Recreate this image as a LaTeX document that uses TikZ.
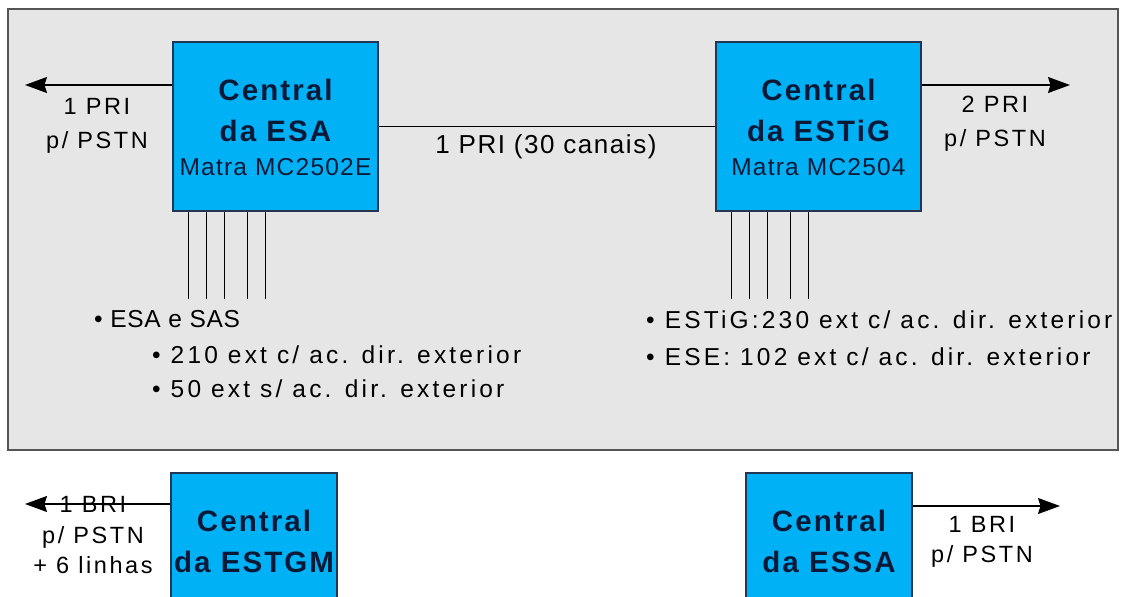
\documentclass[tikz,border=0pt]{standalone}
\usepackage{fontspec}
\setmainfont{Liberation Sans}
\usetikzlibrary{arrows.meta,positioning}

\definecolor{centralfill}{RGB}{0,178,245}
\definecolor{centraldraw}{RGB}{35,55,85}
\definecolor{centraltext}{RGB}{10,25,55}
\definecolor{zonefill}{RGB}{230,230,230}
\definecolor{zonedraw}{RGB}{85,85,85}

\newcommand{\track}[1]{\addfontfeature{LetterSpace=#1}}

\tikzset{
    central/.style={draw=centraldraw, line width=1.4pt, fill=centralfill, inner sep=0pt, minimum width=205pt, minimum height=169pt},
    smallcentral/.style={central, minimum width=166pt},
    centraltitle/.style={inner sep=0pt, align=center, text=centraltext, font=\fontsize{29.5}{41}\selectfont\bfseries\track{7}},
    centralmodel/.style={inner sep=0pt, text=centraltext, font=\fontsize{24.5}{28}\selectfont\track{5}},
    linklabel/.style={inner sep=0pt, align=center, font=\fontsize{23.5}{34}\selectfont\track{11}},
    extlabel/.style={inner sep=0pt, anchor=base west, font=\fontsize{24.5}{30}\selectfont\track{13}},
    link/.style={line width=1.3pt},
    pstn/.style={link, -{Stealth[length=22pt, width=16pt, inset=2.5pt]}},
}

\begin{document}
\begin{tikzpicture}[x=1pt, y=-1pt]
    \useasboundingbox (0,0) rectangle (1122,597);
    \clip (0,0) rectangle (1122,597);
    \draw[zonedraw, line width=1.6pt, fill=zonefill] (8,9) rectangle (1118,450);

    \node[central] (esa) at (275.5,126.5) {};
    \node[central] (estig) at (818.5,126.5) {};
    \node[smallcentral] (estgm) at (254,557.5) {};
    \node[smallcentral] (essa) at (829,557.5) {};

    \node[centraltitle, below=38pt of esa.north] (esa-t) {Central\\da ESA};
    \node[centralmodel, below=16pt of esa-t] (esa-m) {Matra MC2502E};
    \node[centraltitle, below=38pt of estig.north] (estig-t) {Central\\da ESTiG};
    \node[centralmodel, below=16pt of estig-t] (estig-m) {Matra MC2504};
    \node[centraltitle, below=38pt of estgm.north] (estgm-t) {Central\\da ESTGM};
    \node[centraltitle, below=38pt of essa.north] (essa-t) {Central\\da ESSA};

    \coordinate (psa) at (25,85);
    \coordinate (pst) at (1070,85);
    \coordinate (psgm) at (25,504);
    \coordinate (pssa) at (1060,506);

    \draw[pstn] (esa.west |- psa) -- (psa);
    \draw[pstn] (estig.east |- pst) -- (pst);
    \draw[link] (esa.east) -- (estig.west);
    \draw[pstn] (estgm.west |- psgm) -- (psgm);
    \draw[pstn] (essa.east |- pssa) -- (pssa);

    \foreach \dx in {16,34,52,75,93} {
        \draw[link] ([xshift=\dx pt]esa.south west) -- ++(0,87);
        \draw[link] ([xshift=\dx pt]estig.south west) -- ++(0,87);
    }

    \node[linklabel, anchor=north] (psa-l) at (97,98) {1 PRI\\p/ PSTN};
    \node[linklabel, anchor=north] (pst-l) at (995,96) {2 PRI\\p/ PSTN};
    \node[anchor=base, inner sep=0pt, font=\fontsize{26}{30}\selectfont\track{6}] (tie-l) at (546,153) {1 PRI (30 canais)};
    \node[linklabel, anchor=north] (psgm-l) at (93,496) {1 BRI\\[-3pt]p/ PSTN\\[-4pt]+ 6 linhas};
    \node[linklabel, anchor=north] (pssa-l) at (982,516) {1 BRI\\[-4pt]p/ PSTN};

    \node[extlabel] (esa-x1) at (94,327) {\track{3}• ESA e SAS};
    \node[extlabel] (esa-x2) at (152,363) {• 210 ext c/ ac. dir. exterior};
    \node[extlabel] (esa-x3) at (152,397) {• 50 ext s/ ac. dir. exterior};
    \node[extlabel] (estig-x1) at (646,328) {• ESTiG:230 ext c/ ac. dir. exterior};
    \node[extlabel] (estig-x2) at (646,365) {• ESE: 102 ext c/ ac. dir. exterior};
\end{tikzpicture}
\end{document}
